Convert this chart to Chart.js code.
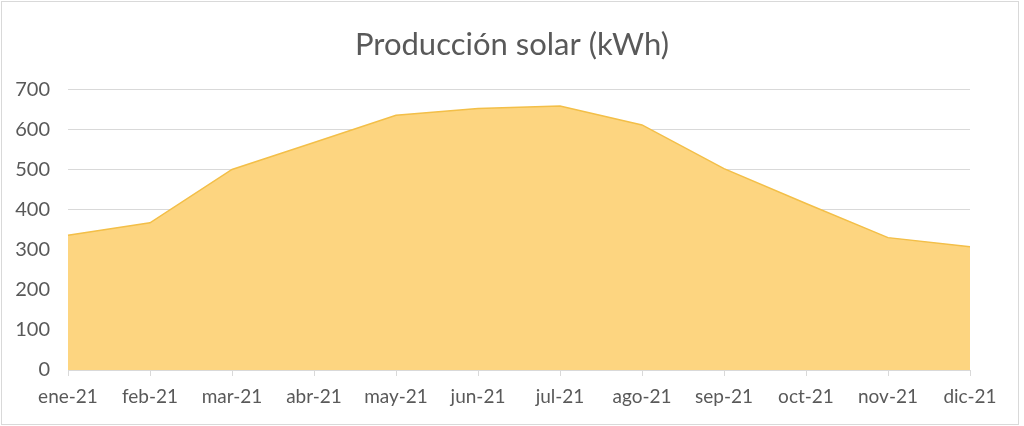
<!DOCTYPE html>
<html>
<head>
<meta charset="utf-8">
<script src="https://cdn.jsdelivr.net/npm/chart.js@4/dist/chart.umd.min.js"></script>
<style>
  html, body { margin: 0; padding: 0; background: #fff; }
  #marco { position: absolute; left: 1px; top: 1px; width: 1016px; height: 422px; border: 1px solid #d9d9d9; }
  #lienzo { position: absolute; left: 0; top: 0; }
</style>
</head>
<body>
<div id="marco"></div>
<canvas id="lienzo" width="1024" height="426"></canvas>
<script>
// Datos
const meses = ["ene-21", "feb-21", "mar-21", "abr-21", "may-21", "jun-21",
               "jul-21", "ago-21", "sep-21", "oct-21", "nov-21", "dic-21"];
const produccion = [336, 367, 500, 567, 635, 652, 658, 611, 502, 415, 330, 307];
const titulo = "Producción solar (kWh)";

const gris = '#d9d9d9';
const texto = '#595959';
const fuente = 'Lato, "Open Sans", sans-serif';

const ctx = document.getElementById('lienzo').getContext('2d');
new Chart(ctx, {
  type: 'line',
  data: {
    labels: meses,
    datasets: [{
      label: titulo,
      data: produccion,
      fill: 'origin',
      backgroundColor: '#fdd580',
      borderColor: '#f3bf48',
      borderWidth: 1.5,
      pointRadius: 0,
      tension: 0
    }]
  },
  options: {
    responsive: false,
    animation: false,
    layout: { padding: 0 },
    plugins: {
      legend: { display: false },
      tooltip: { enabled: false },
      title: {
        display: true,
        text: titulo,
        color: texto,
        font: { family: fuente, size: 31, weight: 'normal' },
        padding: { top: 26, bottom: 26 }
      }
    },
    scales: {
      x: {
        offset: false,
        afterFit: s => { s.height = 56; },
        grid: { drawOnChartArea: false, drawTicks: true, tickLength: 6, color: gris },
        border: { display: true, color: gris },
        ticks: { color: texto, font: { family: fuente, size: 19 }, padding: 9, maxRotation: 0 }
      },
      y: {
        min: 0,
        max: 700,
        afterFit: s => { s.width = 68; },
        grid: { color: gris, drawTicks: false },
        border: { display: false },
        ticks: { stepSize: 100, color: texto, font: { family: fuente, size: 20 }, padding: 18 }
      },
      // eje vacío a la derecha: deja sitio a "dic-21" y el título centrado en el lienzo
      derecha: {
        position: 'right',
        min: 0,
        max: 700,
        afterFit: s => { s.width = 54; },
        grid: { display: false },
        border: { display: false },
        ticks: { display: false }
      }
    }
  }
});
</script>
</body>
</html>
